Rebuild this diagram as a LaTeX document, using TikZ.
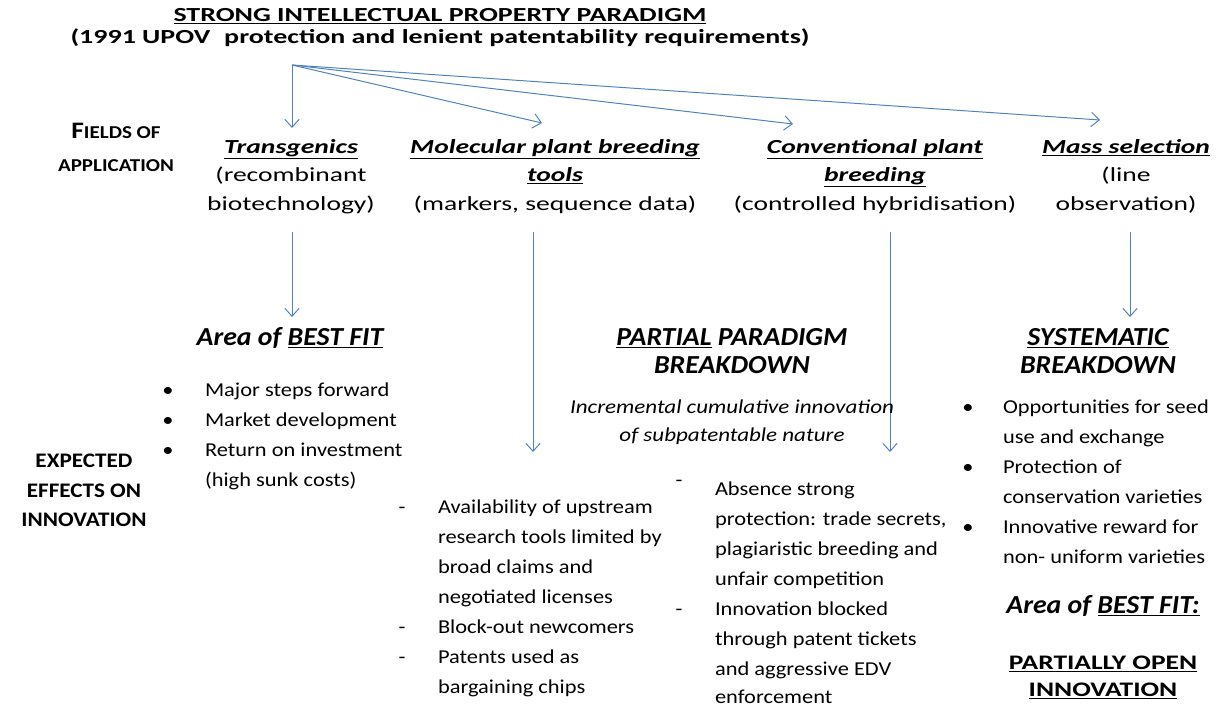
\documentclass[tikz,border=0pt]{standalone}
\usepackage{fontspec}
\setmainfont{Carlito}
\usetikzlibrary{arrows.meta}
\definecolor{arrblue}{RGB}{79,129,189}

\begin{document}
\begin{tikzpicture}[every node/.style={inner sep=0pt, outer sep=0pt, anchor=mid},
	heading/.style={font=\fontsize{14.2}{16}\selectfont\bfseries, xscale=1.4},
	colhead/.style={font=\fontsize{14.2}{16}\selectfont\bfseries\itshape, xscale=1.38},
	coltext/.style={font=\fontsize{14.2}{16}\selectfont, xscale=1.38},
	hdr/.style={font=\fontsize{18.5}{20}\selectfont\bfseries\itshape, xscale=1.07},
	openhdr/.style={font=\fontsize{14.7}{16}\selectfont\bfseries, xscale=1.33},
	incr/.style={font=\fontsize{14}{16}\selectfont\itshape, xscale=1.17},
	side/.style={font=\fontsize{12.9}{16}\selectfont\bfseries, xscale=1.16},
	lbl/.style={font=\fontsize{14.7}{16}\selectfont\bfseries, xscale=1.12},
	body/.style={font=\fontsize{14}{16}\selectfont, xscale=1.14, anchor=mid west},
	bul/.style={font=\fontsize{14}{16}\selectfont, xscale=1.14},
	>={Straight Barb[length=2mm, width=3.6mm]}, arr/.style={draw=arrblue, line width=0.7pt}]
	\useasboundingbox (0, 0) rectangle (30.5, -17.7);
	
	% Title
	\node[heading] (title1) at (11, -0.45) {\underline{STRONG INTELLECTUAL PROPERTY PARADIGM}};
	\node[heading] (title2) at (11, -1.0) {(1991 UPOV\hspace{0.5em}protection and lenient patentability requirements)};
	
	% Fan of arrows
	\coordinate (src) at (7.3, -1.625);
	\coordinate (tipA) at (7.3, -3.2);
	\coordinate (tipB) at (13.55, -3.075);
	\coordinate (tipC) at (19.825, -3.1);
	\coordinate (tipD) at (27.5, -3.0);
	\draw[arr, ->] (src) -- (tipA);
	\draw[arr, ->] (src) -- (tipB);
	\draw[arr, ->] (src) -- (tipC);
	\draw[arr, ->] (src) -- (tipD);
	
	% Side labels
	\node[side] (fields1) at (2.9, -3.375) {{\fontsize{16.8}{18}\selectfont F}IELDS OF};
	\node[side] (fields2) at (2.9, -4.2) {APPLICATION};
	\node[lbl] (expect1) at (2.1, -11.6) {EXPECTED};
	\node[lbl] (expect2) at (2.1, -12.35) {EFFECTS ON};
	\node[lbl] (expect3) at (2.1, -13.075) {INNOVATION};
	
	% Fields of application
	\node[colhead] (transA) at (7.275, -3.75) {\underline{Transgenics}};
	\node[coltext] (transB) at (7.275, -4.45) {(recombinant};
	\node[coltext] (transC) at (7.275, -5.175) {biotechnology)};
	\node[colhead] (molA) at (13.875, -3.75) {\underline{Molecular plant breeding}};
	\node[colhead] (molB) at (13.875, -4.45) {\underline{tools}};
	\node[coltext] (molC) at (13.875, -5.175) {(markers, sequence data)};
	\node[colhead] (convA) at (21.875, -3.75) {\underline{Conventional plant}};
	\node[colhead] (convB) at (21.875, -4.45) {\underline{breeding}};
	\node[coltext] (convC) at (21.875, -5.175) {(controlled hybridisation)};
	\node[colhead] (massA) at (28.15, -3.75) {\underline{Mass selection}};
	\node[coltext] (massB) at (28.15, -4.45) {(line};
	\node[coltext] (massC) at (28.15, -5.175) {observation)};
	
	% Down arrows
	\coordinate (topA) at (7.3, -5.8);
	\coordinate (botA) at (7.3, -7.925);
	\coordinate (topB) at (13.325, -5.8);
	\coordinate (botB) at (13.325, -11.3);
	\coordinate (topC) at (22.25, -5.8);
	\coordinate (botC) at (22.25, -11.3);
	\coordinate (topD) at (28.25, -5.8);
	\coordinate (botD) at (28.25, -7.925);
	\draw[arr, ->] (topA) -- (botA);
	\draw[arr, ->] (topB) -- (botB);
	\draw[arr, ->] (topC) -- (botC);
	\draw[arr, ->] (topD) -- (botD);
	
	% Area of best fit
	\node[hdr] (fitA) at (7.25, -8.55) {Area of \underline{BEST FIT}};
	\node[bul] (bulA1) at (4.2, -9.825) {•};
	\node[bul] (bulA2) at (4.2, -10.575) {•};
	\node[bul] (bulA3) at (4.2, -11.325) {•};
	\node[body] (fitA1) at (5.125, -9.825) {Major steps forward};
	\node[body] (fitA2) at (5.125, -10.575) {Market development};
	\node[body] (fitA3) at (5.125, -11.325) {Return on investment};
	\node[body] (fitA4) at (5.125, -12.075) {(high sunk costs)};
	
	% Partial paradigm breakdown
	\node[hdr] (partA) at (18.3, -8.55) {\underline{PARTIAL} PARADIGM};
	\node[hdr] (partB) at (18.3, -9.25) {BREAKDOWN};
	\node[incr] (incrA) at (18.3, -10.25) {Incremental cumulative innovation};
	\node[incr] (incrB) at (18.3, -10.95) {of subpatentable nature};
	
	\node[bul] (dashB1) at (10.05, -12.75) {-};
	\node[bul] (dashB2) at (10.05, -15.75) {-};
	\node[bul] (dashB3) at (10.05, -16.5) {-};
	\node[body] (molE1) at (10.95, -12.75) {Availability of upstream};
	\node[body] (molE2) at (10.95, -13.5) {research tools limited by};
	\node[body] (molE3) at (10.95, -14.25) {broad claims and};
	\node[body] (molE4) at (10.95, -15.0) {negotiated licenses};
	\node[body] (molE5) at (10.95, -15.75) {Block-out newcomers};
	\node[body] (molE6) at (10.95, -16.5) {Patents used as};
	\node[body] (molE7) at (10.95, -17.25) {bargaining chips};
	
	\node[bul] (dashC1) at (16.975, -12.075) {-};
	\node[bul] (dashC2) at (16.975, -15.3) {-};
	\node[body] (convE1) at (17.875, -12.3) {Absence strong};
	\node[body] (convE2) at (17.875, -13.05) {protection: trade secrets,};
	\node[body] (convE3) at (17.875, -13.8) {plagiaristic breeding and};
	\node[body] (convE4) at (17.875, -14.55) {unfair competition};
	\node[body] (convE5) at (17.875, -15.3) {Innovation blocked};
	\node[body] (convE6) at (17.875, -16.05) {through patent tickets};
	\node[body] (convE7) at (17.875, -16.8) {and aggressive EDV};
	\node[body] (convE8) at (17.875, -17.5) {enforcement};
	
	% Systematic breakdown
	\node[hdr] (sysA) at (27.45, -8.55) {\underline{SYSTEMATIC}};
	\node[hdr] (sysB) at (27.45, -9.25) {BREAKDOWN};
	\node[bul] (bulD1) at (24.2, -10.25) {•};
	\node[bul] (bulD2) at (24.2, -11.75) {•};
	\node[bul] (bulD3) at (24.2, -13.25) {•};
	\node[body] (massE1) at (25.075, -10.25) {Opportunities for seed};
	\node[body] (massE2) at (25.075, -11.0) {use and exchange};
	\node[body] (massE3) at (25.075, -11.75) {Protection of};
	\node[body] (massE4) at (25.075, -12.5) {conservation varieties};
	\node[body] (massE5) at (25.075, -13.25) {Innovative reward for};
	\node[body] (massE6) at (25.075, -14.0) {non- uniform varieties};
	
	\node[hdr] (fitD) at (27.575, -15.25) {Area of \underline{BEST FIT:}};
	\node[openhdr] (openA) at (27.575, -16.65) {\underline{PARTIALLY OPEN}};
	\node[openhdr] (openB) at (27.575, -17.325) {\underline{INNOVATION}};
\end{tikzpicture}
\end{document}
